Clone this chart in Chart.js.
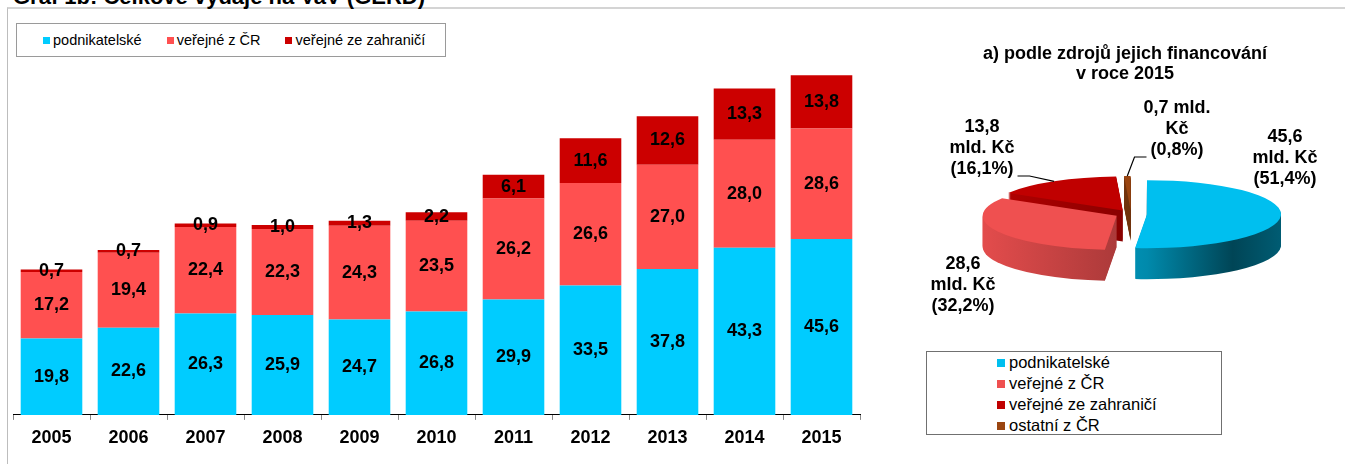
<!DOCTYPE html>
<html>
<head>
<meta charset="utf-8">
<script src="https://cdn.jsdelivr.net/npm/chart.js@4.4.0/dist/chart.umd.min.js"></script>
<style>
  html, body { margin: 0; padding: 0; background: #fff; }
  body { width: 1345px; height: 464px; position: relative; overflow: hidden;
         font-family: "Liberation Sans", Arial, sans-serif; color: #000; }
  #frame { position: absolute; left: 7px; top: 7px; right: -10px; bottom: -10px;
           border-top: 2px solid #d4d4d4; border-left: 1px solid #bdbdbd; }
  #mainTitle { position: absolute; left: 13px; top: -14px; font-size: 22px; font-weight: bold;
               line-height: 22px; white-space: nowrap; }
  #barWrap { position: absolute; left: 0; top: 0; width: 870px; height: 464px; }
  #pieWrap { position: absolute; left: 880px; top: 0; width: 465px; height: 464px; }
  #pieTitle { position: absolute; left: 925px; width: 400px; top: 43px; text-align: center;
              font-size: 18px; font-weight: bold; line-height: 20px; }
  .legend { position: absolute; background: #fff; box-sizing: border-box; }
  #barLegend { left: 16px; top: 23px; width: 430px; height: 34px; border: 1px solid #9a9a9a;
               display: flex; align-items: center; padding-left: 26px; font-size: 14.5px; }
  #barLegend .item { display: flex; align-items: center; margin-right: 25px; white-space: nowrap; }
  #barLegend .sw { width: 7px; height: 7px; margin-right: 3px; }
  #pieLegend { left: 926px; top: 351px; width: 296px; height: 84px; border: 1px solid #707070;
               padding-left: 70px; font-size: 16.5px; }
  #pieLegend .item { display: flex; align-items: center; height: 21px; white-space: nowrap; }
  #pieLegend .sw { width: 8px; height: 8px; margin-right: 4px; }
</style>
</head>
<body>
<div id="frame"></div>
<div id="mainTitle">Graf 1b: Celkové výdaje na VaV (GERD)</div>
<div id="barWrap"><canvas id="bar"></canvas></div>
<div id="pieWrap"><canvas id="pie"></canvas></div>
<div id="barLegend" class="legend"></div>
<div id="pieTitle">a) podle zdrojů jejich financování<br>v roce 2015</div>
<div id="pieLegend" class="legend"></div>
<script>
// data
const years = ['2005', '2006', '2007', '2008', '2009', '2010', '2011', '2012', '2013', '2014', '2015'];
const podnikatelske = [19.8, 22.6, 26.3, 25.9, 24.7, 26.8, 29.9, 33.5, 37.8, 43.3, 45.6];
const verejneCR = [17.2, 19.4, 22.4, 22.3, 24.3, 23.5, 26.2, 26.6, 27.0, 28.0, 28.6];
const verejneZahranici = [0.7, 0.7, 0.9, 1.0, 1.3, 2.2, 6.1, 11.6, 12.6, 13.3, 13.8];
const seriesNames = ['podnikatelské', 'veřejné z ČR', 'veřejné ze zahraničí'];
const barColors = ['#00CCFF', '#FF5050', '#CC0000'];

const pieNames = ['podnikatelské', 'veřejné z ČR', 'veřejné ze zahraničí', 'ostatní z ČR'];
const pieValues = [45.6, 28.6, 13.8, 0.7];
const piePercents = [51.4, 32.2, 16.1, 0.8];
const pieColors = ['#00BFEF', '#EF5050', '#C00000', '#9A4510'];

// pie look: tilt, depth, explode, label spots relative to pie centre
const pieLayout = {
    tilt: 0.254,
    depth: 31,
    explode: 16,
    labelWidth: 72,
    lineHeight: 21,
    labelPos: [[154, -56], [-168, 71], [-149, -66], [46, -85]],
    leaders: [false, false, true, true]
};

const FONT = '"Liberation Sans", Arial, sans-serif';
const fmt = v => v.toFixed(1).replace('.', ',');

function shade(hex, f) {
    const n = parseInt(hex.slice(1), 16);
    const r = Math.round(((n >> 16) & 255) * f);
    const g = Math.round(((n >> 8) & 255) * f);
    const b = Math.round((n & 255) * f);
    return `rgb(${r},${g},${b})`;
}

function midAngle(a) {
    return (a.startAngle + a.endAngle) / 2;
}

function wrap(ctx, text, maxW) {
    const words = text.split(' ');
    const lines = [];
    let cur = '';
    words.forEach(w => {
        const t = cur ? cur + ' ' + w : w;
        if (cur && ctx.measureText(t).width > maxW) {
            lines.push(cur);
            cur = w;
        } else {
            cur = t;
        }
    });
    if (cur) lines.push(cur);
    return lines;
}

// legends
function buildLegend(el, names, colors) {
    names.forEach((name, i) => {
        const item = document.createElement('div');
        item.className = 'item';
        const sw = document.createElement('span');
        sw.className = 'sw';
        sw.style.background = colors[i];
        item.appendChild(sw);
        item.appendChild(document.createTextNode(name));
        el.appendChild(item);
    });
}
buildLegend(document.getElementById('barLegend'), seriesNames, barColors);
buildLegend(document.getElementById('pieLegend'), pieNames, pieColors);

// value labels inside the bar segments
const barLabels = {
    id: 'barLabels',
    afterDatasetsDraw(chart) {
        const ctx = chart.ctx;
        ctx.save();
        ctx.font = 'bold 18px ' + FONT;
        ctx.fillStyle = '#000';
        ctx.textAlign = 'center';
        ctx.textBaseline = 'middle';
        chart.data.datasets.forEach((ds, i) => {
            chart.getDatasetMeta(i).data.forEach((bar, j) => {
                ctx.fillText(fmt(ds.data[j]), bar.x, (bar.y + bar.base) / 2);
            });
        });
        ctx.restore();
    }
};

new Chart(document.getElementById('bar'), {
    type: 'bar',
    data: {
        labels: years,
        datasets: [
            { label: seriesNames[0], data: podnikatelske, backgroundColor: barColors[0] },
            { label: seriesNames[1], data: verejneCR, backgroundColor: barColors[1] },
            { label: seriesNames[2], data: verejneZahranici, backgroundColor: barColors[2] }
        ]
    },
    options: {
        responsive: true,
        maintainAspectRatio: false,
        animation: false,
        layout: { padding: { left: 13, right: 10, top: 29, bottom: 7.5 } },
        datasets: { bar: { categoryPercentage: 0.8, barPercentage: 1 } },
        plugins: { legend: { display: false }, tooltip: { enabled: false } },
        scales: {
            x: {
                stacked: true,
                grid: { drawOnChartArea: false, tickLength: 5, color: '#888' },
                border: { color: '#000', width: 1 },
                ticks: { color: '#000', padding: 7.5, font: { family: FONT, size: 18, weight: 'bold' } }
            },
            y: { stacked: true, display: false, min: 0, max: 100 }
        }
    },
    plugins: [barLabels]
});

// flattened, exploded pie with a side wall
const pie3d = {
    id: 'pie3d',
    beforeDatasetsDraw(chart) {
        const ctx = chart.ctx;
        const arcs = chart.getDatasetMeta(0).data;
        const cx = arcs[0].x, cy = arcs[0].y, r = arcs[0].outerRadius;
        const k = pieLayout.tilt, ex = pieLayout.explode;
        const order = arcs.map((a, i) => i)
            .sort((i, j) => Math.sin(midAngle(arcs[i])) - Math.sin(midAngle(arcs[j])));

        ctx.save();
        ctx.translate(cx, cy);
        ctx.scale(1, k);
        ctx.translate(-cx, -cy);

        // side walls, back slices first
        order.forEach(i => {
            const a = arcs[i];
            const m = midAngle(a);
            const dx = Math.cos(m) * ex, dy = Math.sin(m) * ex;
            const g = ctx.createLinearGradient(cx - r, 0, cx + r, 0);
            [[0, 0.95], [0.5, 0.72], [0.82, 0.36], [1, 0.48]]
                .forEach(([p, f]) => g.addColorStop(p, shade(pieColors[i], f)));
            const saved = a.options;
            a.options = Object.assign({}, saved, { backgroundColor: g, borderWidth: 0 });
            for (let d = pieLayout.depth; d >= 1; d--) {
                ctx.save();
                ctx.translate(dx, dy + d / k);
                a.draw(ctx);
                ctx.restore();
            }
            a.options = saved;
        });

        // top faces
        arcs.forEach(a => {
            const m = midAngle(a);
            ctx.save();
            ctx.translate(Math.cos(m) * ex, Math.sin(m) * ex);
            a.draw(ctx);
            ctx.restore();
        });
        ctx.restore();
        return false;
    },
    afterDraw(chart) {
        const ctx = chart.ctx;
        const arcs = chart.getDatasetMeta(0).data;
        const cx = arcs[0].x, cy = arcs[0].y, r = arcs[0].outerRadius;
        const k = pieLayout.tilt, ex = pieLayout.explode, lh = pieLayout.lineHeight;
        ctx.save();
        ctx.font = 'bold 18px ' + FONT;
        ctx.fillStyle = '#000';
        ctx.strokeStyle = '#000';
        ctx.lineWidth = 1.2;
        ctx.textAlign = 'center';
        ctx.textBaseline = 'middle';
        arcs.forEach((a, i) => {
            const text = fmt(pieValues[i]) + ' mld. Kč (' + fmt(piePercents[i]) + '%)';
            const lines = wrap(ctx, text, pieLayout.labelWidth);
            const lx = cx + pieLayout.labelPos[i][0];
            const ly = cy + pieLayout.labelPos[i][1];
            const top = ly - (lines.length - 1) * lh / 2;
            lines.forEach((l, n) => ctx.fillText(l, lx, top + n * lh));
            if (pieLayout.leaders[i]) {
                const m = midAngle(a);
                const px = cx + Math.cos(m) * (r + ex);
                const py = cy + Math.sin(m) * (r + ex) * k;
                const w = ctx.measureText(lines[lines.length - 1]).width;
                const side = px > lx ? 1 : -1;
                const sx = lx + side * (w / 2 + 4);
                const sy = top + (lines.length - 1) * lh + 7;
                ctx.beginPath();
                ctx.moveTo(sx, sy);
                ctx.lineTo(sx + side * 12, sy);
                ctx.lineTo(px, py);
                ctx.stroke();
            }
        });
        ctx.restore();
    }
};

new Chart(document.getElementById('pie'), {
    type: 'pie',
    data: {
        labels: pieNames,
        datasets: [{ data: pieValues, backgroundColor: pieColors, borderWidth: 0 }]
    },
    options: {
        responsive: true,
        maintainAspectRatio: false,
        animation: false,
        radius: 134,
        layout: { padding: { left: 37, right: 0, top: 0, bottom: 36 } },
        plugins: { legend: { display: false }, tooltip: { enabled: false } }
    },
    plugins: [pie3d]
});
</script>
</body>
</html>
